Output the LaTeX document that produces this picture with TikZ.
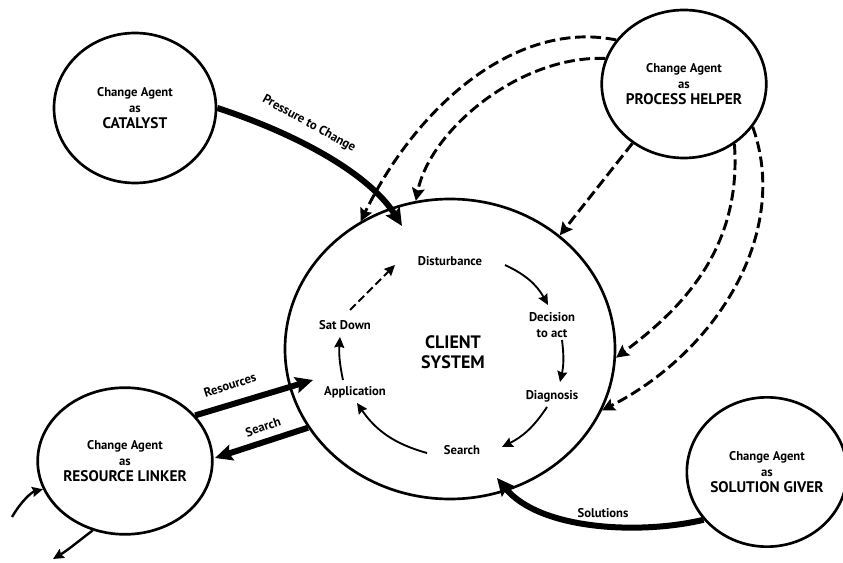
\documentclass[tikz,border=0pt]{standalone}
\usepackage{fontspec}
\setmainfont{PT Sans}
\usetikzlibrary{arrows.meta,shapes.geometric,calc}
\newcommand\capsline[1]{{\fontsize{11.5}{12}\selectfont #1}}
\begin{document}
\begin{tikzpicture}[x=0.75pt,y=-0.75pt,
  agent/.style={ellipse, draw, line width=2pt, inner sep=0pt, align=center,
    font=\bfseries\fontsize{9.5}{12}\selectfont},
  lbl/.style={inner sep=1pt, align=center, font=\bfseries\fontsize{9.5}{12}\selectfont},
  biglbl/.style={inner sep=1pt, align=center, font=\bfseries\fontsize{13.5}{15}\selectfont},
  thickarrow/.style={line width=4.5pt, -{Stealth[length=13pt,width=12pt,inset=2pt]}},
  dasharrow/.style={line width=2.2pt, dash pattern=on 8pt off 3.5pt, -{Stealth[length=9.5pt,width=9.5pt,inset=1.5pt]}},
  thinarrow/.style={line width=1.4pt, -{Stealth[length=8pt,width=7.5pt,inset=1pt]}},
  smallarrow/.style={line width=1.8pt, -{Stealth[length=8pt,width=7.5pt,inset=1pt]}}
]
\fill[white] (0,0) rectangle (843,563);
\useasboundingbox (0,0) rectangle (843,563);

% agents
\node[agent, minimum width=121.5pt, minimum height=112.5pt] (cat) at (135,108) {Change Agent\\as\\\capsline{CATALYST}};
\node[agent, minimum width=121.5pt, minimum height=111pt] (ph) at (684,84) {Change Agent\\as\\\capsline{PROCESS HELPER}};
\node[agent, minimum width=120pt, minimum height=110pt] (rl) at (125,461) {Change Agent\\as\\\capsline{RESOURCE LINKER}};
\node[agent, minimum width=114pt, minimum height=112pt] (sg) at (767,472) {Change Agent\\as\\\capsline{SOLUTION GIVER}};

% client system
\node[ellipse, draw, line width=2pt, inner sep=0pt, minimum width=247.5pt, minimum height=225pt] (client) at (450,349) {};
\node[biglbl] (cs) at (453,352) {CLIENT\\SYSTEM};

% cycle labels
\node[lbl] (dist) at (450,261) {Disturbance};
\node[lbl] (dec) at (552,325) {Decision\\to act};
\node[lbl] (diag) at (552,396) {Diagnosis};
\node[lbl] (srch) at (462,450) {Search};
\node[lbl] (app) at (355,392) {Application};
\node[lbl] (sat) at (345,325) {Sat Down};

% cycle arrows
\draw[thinarrow] ($(dist.center)+(55,4)$) to[bend left=18] ($(dec.center)+(-4,-20)$);
\draw[thinarrow] ($(dec.center)+(10,15)$) to[bend left=10] ($(diag.center)+(8,-14)$);
\draw[thinarrow] ($(diag.center)+(-5,11)$) to[bend left=15] ($(srch.center)+(40,-3)$);
\draw[thinarrow] ($(srch.center)+(-35,3)$) to[bend left=20] ($(app.center)+(2,11)$);
\draw[thinarrow] ($(app.center)+(-12,-12)$) to[bend left=8] ($(sat.center)+(-5,12)$);
\draw[thinarrow, dash pattern=on 6pt off 3pt] ($(sat.center)+(5,-15)$) -- ($(dist.center)+(-55,4)$);

% catalyst
\draw[thickarrow] (cat.east) .. controls (300,135) and (370,175) .. ($(client.center)+(-48,-123)$);
\node[lbl, rotate=-29] (plab) at (309,124) {Pressure to Change};

% process helper
\draw[dasharrow] (ph.147) .. controls (520,20) and (420,100) .. (client.125);
\draw[dasharrow] (ph.162) .. controls (520,55) and (430,130) .. (client.103);
\draw[dasharrow] (ph.-131) -- (client.46);
\draw[dasharrow] (ph.-50) .. controls (742,250) and (680,310) .. (client.-3);
\draw[dasharrow] (ph.-32) .. controls (790,230) and (720,350) .. (client.-22);

% resource linker
\draw[thickarrow] (rl.33) -- ($(client.center)+(-137,31)$);
\node[lbl, rotate=18] (rlab) at (230,385) {Resources};
\draw[thickarrow] (client.-151) -- ($(rl.center)+(90,-3)$);
\node[lbl, rotate=19] (slab) at (263,427) {Search};
\coordinate (inA) at (12,517);
\coordinate (outA) at (53,559);
\draw[smallarrow] (inA) .. controls (22,500) and (32,492) .. (rl.-161);
\draw[smallarrow] (rl.-115) .. controls (80,540) and (68,550) .. (outA);

% solution giver
\draw[thickarrow] (sg.-143) .. controls (640,535) and (540,530) .. ($(client.center)+(47,129)$);
\node[lbl] (solab) at (603,513) {Solutions};
\end{tikzpicture}
\end{document}
